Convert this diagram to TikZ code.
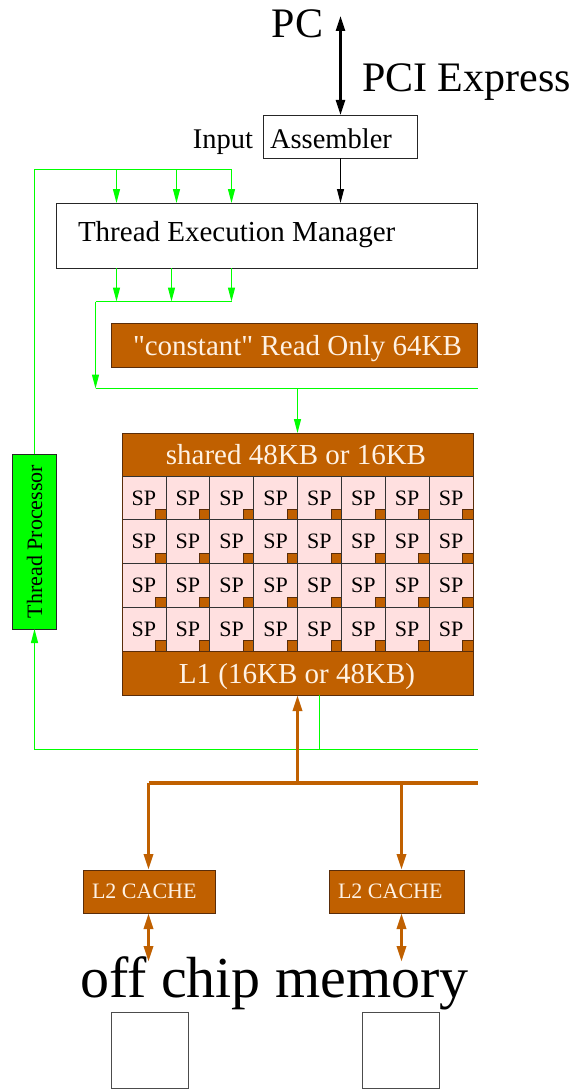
\documentclass[tikz,border=0pt]{standalone}
\usepackage{fontspec}
\setmainfont{Liberation Serif}
\newfontfamily\rawserif{Liberation Serif}[Ligatures=TeXOff]
\usetikzlibrary{arrows.meta}
\definecolor{brn}{RGB}{192,96,0}
\definecolor{brnd}{RGB}{90,45,10}
\definecolor{grn}{RGB}{0,255,0}
\definecolor{pnk}{RGB}{255,224,224}
\definecolor{cream}{RGB}{255,242,228}
\newcommand{\fsz}[1]{\fontsize{#1}{#1}\selectfont}
\begin{document}
\begin{tikzpicture}[x=1pt,y=-1pt,
  box/.style={draw=black!85,line width=0.8pt,inner sep=0pt,outer sep=0pt},
  obox/.style={box,fill=brn,draw=brnd},
  cell/.style={draw=black!80,line width=0.6pt,fill=pnk,inner sep=0pt,outer sep=0pt,minimum width=43.875pt,minimum height=43.75pt,font=\fsz{22}},
  mini/.style={draw=brnd,line width=0.5pt,fill=brn,inner sep=0pt,outer sep=0pt,minimum size=10.5pt},
  gline/.style={draw=grn,line width=1.25pt},
  gar/.style={gline,-{Triangle[width=7pt,length=14pt]}},
  kar/.style={draw=black,line width=1pt,-{Triangle[width=7pt,length=14pt]}},
  kdar/.style={draw=black,line width=2.6pt,{Triangle[width=9pt,length=15pt]}-{Triangle[width=9pt,length=15pt]}},
  oline/.style={draw=brn,line width=3.3pt},
  oar/.style={oline,-{Triangle[width=9pt,length=16pt]}},
  odar/.style={oline,{Triangle[width=9pt,length=16pt]}-{Triangle[width=9pt,length=16pt]}},
  lbl/.style={inner sep=0pt,outer sep=0pt}
]
\useasboundingbox (0,0) rectangle (581,1089);

% top
\node[lbl,anchor=base,font=\fsz{42}] (pc) at (297.5,38) {PC};
\node[lbl,anchor=base west,font=\fsz{42}] (pci) at (362,92) {PCI Express};
\node[box,minimum width=154pt,minimum height=43pt] (asm) at (340.5,136.5) {};
\node[lbl,anchor=base west,font=\fsz{28.5}] (asmt) at (270,148) {Assembler};
\node[lbl,anchor=base east,font=\fsz{28.5}] (inp) at (253,148) {Input};
\coordinate (pctop) at (340.5,16);
\draw[kdar] (pctop) -- (asm.north);

% TEM
\node[box,minimum width=421pt,minimum height=65pt] (tem) at (266.5,235.5) {};
\node[lbl,anchor=base west,font=\fsz{29}] (temt) at (78,241) {Thread Execution Manager};
\draw[kar] (asm.south) -- (asm.south |- tem.north);

% constant
\node[obox,minimum width=366pt,minimum height=44pt] (cst) at (294,345) {};
\node[lbl,anchor=base west,font=\fsz{29}\rawserif,text=cream] (cstt) at (133,355) {"constant" Read Only 64KB};

% thread processor
\node[box,fill=grn,rotate=90,minimum width=175pt,minimum height=44pt,font=\fsz{22}] (tp) at (34.5,541.5) {Thread Processor};

% shared / SP / L1
\node[obox,minimum width=351pt,minimum height=43pt] (sh) at (297.5,454.5) {};
\node[lbl,anchor=base,font=\fsz{29},text=cream] (sht) at (296,464) {shared 48KB or 16KB};
\foreach \i in {0,...,7}{
  \foreach \j in {0,...,3}{
    \node[cell] (sp-\i-\j) at ({122+43.875*\i+21.9375},{476+43.75*\j+21.875}) {SP};
    \node[mini,anchor=south east] (m-\i-\j) at (sp-\i-\j.south east) {};
  }
}
\node[obox,minimum width=351pt,minimum height=44pt] (l1) at (297.5,673) {};
\node[lbl,anchor=base,font=\fsz{29},text=cream] (l1t) at (297,683) {L1 (16KB or 48KB)};
\draw[brnd,line width=0.8pt] (sh.north west) rectangle (l1.south east);

% green connectors top
\coordinate (ga) at (116.5,169.5);
\coordinate (gb) at (176.5,169.5);
\coordinate (gc) at (231.5,169.5);
\draw[gline] (tp.east) |- (gc);
\draw[gar] (ga) -- (ga |- tem.north);
\draw[gar] (gb) -- (gb |- tem.north);
\draw[gar] (gc) -- (gc |- tem.north);
\coordinate (gd) at (116.5,301.5);
\coordinate (ge) at (171.5,301.5);
\coordinate (gf) at (231.5,301.5);
\coordinate (gg) at (95.5,301.5);
\coordinate (gh) at (95.5,388.5);
\coordinate (gi) at (478,388.5);
\coordinate (gj) at (297.5,388.5);
\draw[gar] (gd |- tem.south) -- (gd);
\draw[gar] (ge |- tem.south) -- (ge);
\draw[gar] (gf |- tem.south) -- (gf);
\draw[gline] (gg) -- (gf);
\draw[gar] (gg) -- (gh);
\draw[gline] (gh) -- (gi);
\draw[gar] (gj) -- (gj |- sh.north);

% green connectors bottom
\coordinate (gk) at (319.5,749.5);
\coordinate (gl) at (34.5,749.5);
\coordinate (gm) at (478,749.5);
\draw[gline] (gk |- l1.south) -- (gk);
\draw[gline] (gl) -- (gm);
\draw[gar] (gl) -- (tp.west);

% orange bus
\coordinate (oa) at (297.5,783);
\coordinate (ob) at (148.5,783);
\coordinate (oc) at (401.5,783);
\coordinate (od) at (478,783);
\draw[oar] (oa) -- (oa |- l1.south);
\draw[oline] (ob) -- (od);
\node[obox,minimum width=132pt,minimum height=43pt] (l2a) at (149,891.5) {};
\node[lbl,anchor=base west,font=\fsz{22},text=cream] (l2at) at (92,898) {L2 CACHE};
\node[obox,minimum width=135pt,minimum height=43pt] (l2b) at (396.5,891.5) {};
\node[lbl,anchor=base west,font=\fsz{22},text=cream] (l2bt) at (338,898) {L2 CACHE};
\draw[oar] (ob) -- (ob |- l2a.north);
\draw[oar] (oc) -- (oc |- l2b.north);
\coordinate (oe) at (148.5,962);
\coordinate (of) at (401.5,962);
\draw[odar] (oe |- l2a.south) -- (oe);
\draw[odar] (of |- l2b.south) -- (of);

% off chip memory
\node[lbl,anchor=base west,font=\fsz{58}] (ocm) at (80,997) {off chip memory};
\node[box,draw=black!70,minimum width=77pt,minimum height=76pt] (mema) at (149.5,1050) {};
\node[box,draw=black!70,minimum width=77pt,minimum height=76pt] (memb) at (400.5,1050) {};
\end{tikzpicture}
\end{document}
